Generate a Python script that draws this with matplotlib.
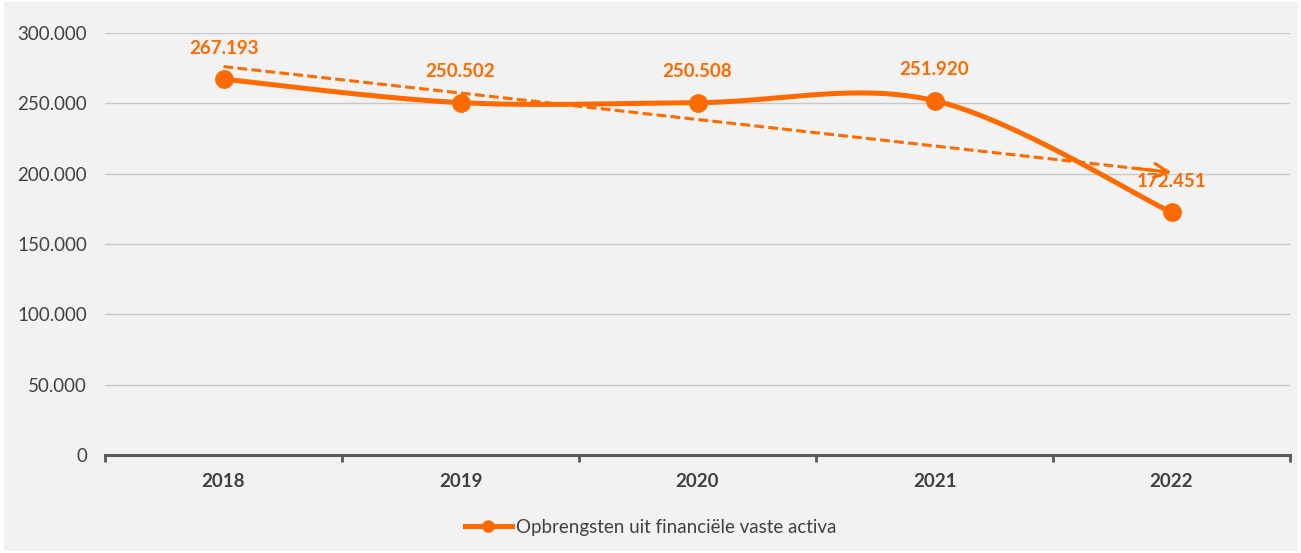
import numpy as np
import matplotlib
matplotlib.use("Agg")
import matplotlib.pyplot as plt
from matplotlib.lines import Line2D
from matplotlib.patches import Rectangle
from matplotlib.ticker import FuncFormatter

years = ["2018", "2019", "2020", "2021", "2022"]
values = [267193, 250502, 250508, 251920, 172451]
value_labels = ["267.193", "250.502", "250.508", "251.920", "172.451"]
yticks = [0, 50000, 100000, 150000, 200000, 250000, 300000]
series_name = "Opbrengsten uit financiële vaste activa"

ORANGE = "#FF6A00"
TEXT = "#404040"
plt.rcParams['font.family'] = ['Lato', 'DejaVu Sans']

fig = plt.figure(figsize=(13.01, 5.53), dpi=100, facecolor="white")
bg = Rectangle((4/1301, 2/553), 1294/1301, 549/553, transform=fig.transFigure,
               facecolor="#F2F2F2", edgecolor="none", zorder=-10)
fig.add_artist(bg)
ax = fig.add_axes([105/1301, 1-455/553, (1290-105)/1301, (455-33)/553])
ax.set_facecolor("none")
ax.set_zorder(5)

x = np.arange(len(values), dtype=float)
y = np.array(values, dtype=float)

# Excel-style smoothed line (Catmull-Rom Bezier)
def smooth(xs, ys, n=60):
    P = np.column_stack([xs, ys])
    P = np.vstack([P[0], P, P[-1]])
    out = []
    for i in range(1, len(P) - 2):
        p0, p1, p2, p3 = P[i-1], P[i], P[i+1], P[i+2]
        c1 = p1 + (p2 - p0) / 6.0
        c2 = p2 - (p3 - p1) / 6.0
        t = np.linspace(0, 1, n)[:, None]
        seg = ((1-t)**3)*p1 + 3*((1-t)**2)*t*c1 + 3*(1-t)*(t**2)*c2 + (t**3)*p2
        out.append(seg if i == 1 else seg[1:])
    seg = np.vstack(out)
    return seg[:, 0], seg[:, 1]

sx, sy = smooth(x, y)
ax.plot(sx, sy, color=ORANGE, lw=3.6, solid_capstyle="round", zorder=3)
ax.plot(x, y, "o", color=ORANGE, ms=12.5, zorder=4)

# linear trendline with arrow
k, b = np.polyfit(x, y, 1)
tx = np.array([x[0], x[-1]])
ty = k * tx + b
ax.plot(tx, ty, color=ORANGE, lw=2.2, ls=(0, (3.2, 1.4)), zorder=2)
ax.annotate("", xy=(tx[1], ty[1]), xytext=(tx[1] - 0.15, k * (tx[1] - 0.15) + b),
            arrowprops=dict(arrowstyle="->,head_length=1.0,head_width=0.5", color=ORANGE, lw=2.2,
                            shrinkA=0, shrinkB=0),
            zorder=2)

for xi, yi, lab in zip(x, y, value_labels):
    ax.annotate(lab, (xi, yi), xytext=(0, 16), textcoords="offset points",
                ha="center", va="bottom", fontsize=13.5, fontweight="bold", color=ORANGE, zorder=5)

ax.set_xlim(-0.5, len(values) - 0.5)
ax.set_ylim(0, 300000)
ax.set_yticks(yticks)
ax.yaxis.set_major_formatter(FuncFormatter(lambda v, p: f"{int(v):,}".replace(",", ".")))
ax.tick_params(axis="y", length=0, pad=13, labelsize=13.5, labelcolor=TEXT)
ax.yaxis.grid(True, color="#C8C8C8", lw=1.0)
ax.set_axisbelow(True)

ax.set_xticks(np.arange(len(values) + 1) - 0.5)
ax.set_xticklabels([])
ax.set_xticks(x, minor=True)
ax.set_xticklabels(years, minor=True)
ax.tick_params(axis="x", which="major", length=5, width=2, color="#595959", direction="out")
ax.tick_params(axis="x", which="minor", length=0, pad=13, labelsize=13.5)
for lab in ax.get_xticklabels(minor=True):
    lab.set_fontweight("bold")
    lab.set_color(TEXT)

for s in ["left", "right", "top"]:
    ax.spines[s].set_visible(False)
ax.spines["bottom"].set_color("#595959")
ax.spines["bottom"].set_linewidth(2.2)

handle = Line2D([], [], color=ORANGE, lw=3.6, marker="o", ms=8)
leg = fig.legend([handle], [series_name], loc="center", bbox_to_anchor=(0.5, 1-527/553),
                 frameon=False, fontsize=13.5, handlelength=2.5, handletextpad=0.2,
                 labelcolor=TEXT)

fig.savefig("out.png", dpi=100, facecolor="white")
